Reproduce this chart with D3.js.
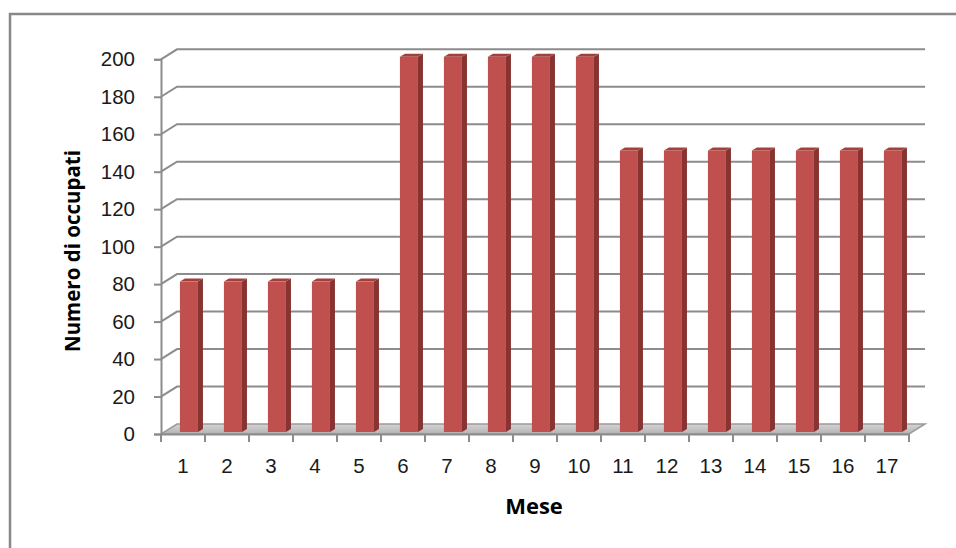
<!DOCTYPE html>
<html>
    <head>
        <script src="https://d3js.org/d3.v7.min.js"></script>
        <style>
            body, html {
                margin: 0;
                padding: 0;
                background: #ffffff;
                font-family: "Open Sans", Arial, sans-serif;
            }
            .tick text {
                font-size: 20.5px;
                fill: #1a1a1a;
            }
            .axisLabel {
                font-weight: bold;
                fill: #000000;
            }
        </style>
    </head>
    <body>
        <div id="chart"></div>
        <script>

            // data
            const months = ["1","2","3","4","5","6","7","8","9","10","11","12","13","14","15","16","17"];
            const occupati = [80,80,80,80,80,200,200,200,200,200,150,150,150,150,150,150,150];
            const yTicks = [0,20,40,60,80,100,120,140,160,180,200];

            const width = 956;
            const height = 548;

            // depth of the 3d box
            const dx = 16, dy = -10;

            const svg = d3.select("#chart")
                .append("svg")
                .attr("width", width)
                .attr("height", height);

            // outer frame (right/bottom edges fall outside the picture)
            svg.append("rect")
                .attr("x", 10)
                .attr("y", 14)
                .attr("width", 960)
                .attr("height", 560)
                .attr("fill", "none")
                .attr("stroke", "#888888")
                .attr("stroke-width", 2.5);

            const xScale = d3.scaleBand()
                .domain(months)
                .range([161, 909])
                .padding(0);

            const yScale = d3.scaleLinear()
                .domain([0, 200])
                .range([434, 59.3]);

            const x0 = xScale.range()[0], x1 = xScale.range()[1];

            // floor
            const floorGrad = svg.append("defs").append("linearGradient")
                .attr("id", "floorGrad")
                .attr("x1", 0).attr("y1", 0).attr("x2", 0).attr("y2", 1);
            floorGrad.append("stop").attr("offset", "0%").attr("stop-color", "#d4d4d4");
            floorGrad.append("stop").attr("offset", "100%").attr("stop-color", "#b4b4b4");

            svg.append("path")
                .attr("d", `M${x0},${yScale(0)} L${x1},${yScale(0)} L${x1+dx},${yScale(0)+dy} L${x0+dx},${yScale(0)+dy} Z`)
                .attr("fill", "url(#floorGrad)")
                .attr("stroke", "#9a9a9a")
                .attr("stroke-width", 1.5);

            // gridlines
            const grid = svg.append("g");
            yTicks.filter(d => d > 0).forEach(function(t) {
                const y = yScale(t);
                grid.append("path")
                    .attr("d", `M${x0},${y} L${x0+dx},${y+dy} L${x1+dx},${y+dy}`)
                    .attr("fill", "none")
                    .attr("stroke", "#8c8c8c")
                    .attr("stroke-width", 2);
            });

            // axes
            const yAxis = svg.append("g")
                .attr("transform", `translate(${x0},0)`)
                .call(d3.axisLeft(yScale).tickValues(yTicks).tickSize(7).tickPadding(19));

            const xAxis = svg.append("g")
                .attr("transform", `translate(0,${yScale(0)})`)
                .call(d3.axisBottom(xScale).tickSize(0).tickPadding(24));

            // category tick marks sit on the band edges
            svg.append("g").selectAll("line")
                .data(months.concat(["end"]))
                .enter()
                .append("line")
                .attr("x1", (d, i) => x0 + i * xScale.bandwidth())
                .attr("x2", (d, i) => x0 + i * xScale.bandwidth())
                .attr("y1", yScale(0))
                .attr("y2", yScale(0) + 8)
                .attr("stroke", "#8c8c8c")
                .attr("stroke-width", 2);

            svg.selectAll(".domain").attr("stroke", "#8c8c8c").attr("stroke-width", 2);
            yAxis.selectAll(".tick line").attr("stroke", "#8c8c8c").attr("stroke-width", 2);

            // bars
            const bw = xScale.bandwidth();
            const bd = 5, bh = -3;
            const bars = svg.append("g").selectAll("g")
                .data(occupati)
                .enter()
                .append("g");

            const bx = (d, i) => xScale(months[i]) + bw * 0.43;
            const fw = bw * 0.41;
            const yb = yScale(0) - 2;
            const yt = d => yScale(d) - 2.5;

            // side face
            bars.append("path")
                .attr("d", (d, i) => {
                    const r = bx(d, i) + fw;
                    return `M${r},${yt(d)} L${r+bd},${yt(d)+bh} L${r+bd},${yb+bh} L${r},${yb} Z`;
                })
                .attr("fill", "#873331");

            // top face
            bars.append("path")
                .attr("d", (d, i) => {
                    const l = bx(d, i);
                    return `M${l},${yt(d)} L${l+fw},${yt(d)} L${l+fw+bd},${yt(d)+bh} L${l+bd},${yt(d)+bh} Z`;
                })
                .attr("fill", "#a3403d");

            // front face
            bars.append("rect")
                .attr("x", (d, i) => bx(d, i))
                .attr("y", d => yt(d))
                .attr("width", fw)
                .attr("height", d => yb - yt(d))
                .attr("fill", "#c0504d");

            // axis titles
            svg.append("text")
                .attr("class", "axisLabel")
                .attr("x", 534)
                .attr("y", 514)
                .attr("text-anchor", "middle")
                .attr("font-size", "22px")
                .text("Mese");

            svg.append("text")
                .attr("class", "axisLabel")
                .attr("transform", "translate(80,251) rotate(-90)")
                .attr("text-anchor", "middle")
                .attr("font-size", "20.5px")
                .text("Numero di occupati");

        </script>
    </body>
</html>
